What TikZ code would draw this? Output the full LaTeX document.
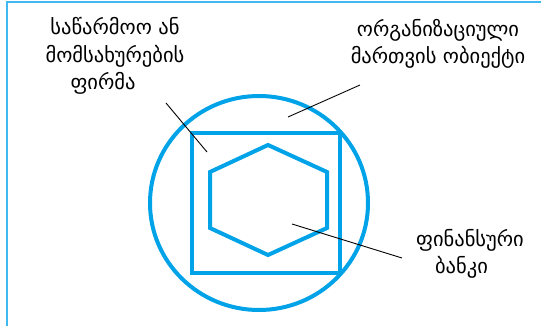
\documentclass[tikz,border=0pt]{standalone}
\usepackage{fontspec}
\setmainfont{DejaVu Sans}
\definecolor{shapeblue}{HTML}{00A2E8}
\definecolor{frameblue}{HTML}{40B8F0}
\begin{document}
\begin{tikzpicture}[x=1pt,y=-1pt,
  bluefig/.style={draw=shapeblue,line width=4pt},
  lbl/.style={align=center,font=\fontsize{20.5}{27.5}\selectfont,inner sep=0pt},
  pointer/.style={draw=black,line width=0.9pt}]
\useasboundingbox (0,0) rectangle (541,326);
% frame
\draw[frameblue,line width=2pt] (6.5,326) -- (6.5,2.5) -- (541,2.5);
% shapes
\draw[bluefig] (259,203) ellipse [x radius=109,y radius=107];
\draw[bluefig] (192,133) rectangle (340,273);
\draw[bluefig] (268,145) -- (327,172) -- (327,228) -- (268,255) -- (210,228) -- (210,172) -- cycle;
% labels
\node[lbl] (firm) at (115,56) {საწარმოო ან\\მომსახურების\\ფირმა\hspace*{24pt}};
\node[lbl] (obj) at (438,44) {ორგანიზაციული\\მართვის ობიექტი};
\node[lbl] (bank) at (470,254) {ფინანსური\\ბანკი\hspace*{17pt}};
% pointers
\coordinate (p1a) at (166,103); \coordinate (p1b) at (207,152);
\coordinate (p2a) at (288,117); \coordinate (p2b) at (360,85);
\coordinate (p3a) at (292,224); \coordinate (p3b) at (402,258);
\draw[pointer] (p1a) -- (p1b);
\draw[pointer] (p2a) -- (p2b);
\draw[pointer] (p3a) -- (p3b);
\end{tikzpicture}
\end{document}
